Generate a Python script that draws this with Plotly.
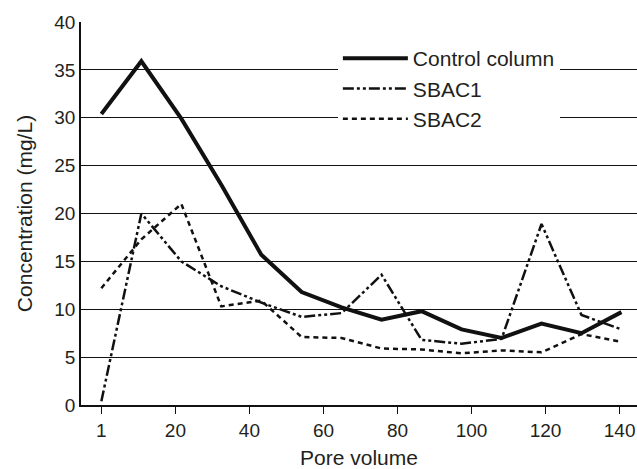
import plotly.graph_objects as go

pore_volume = [0, 10.8, 21.6, 32.4, 43.2, 54.1, 64.9, 75.7, 86.5, 97.3, 108.1, 118.9, 129.7, 140.5]
control = [30.4, 35.9, 29.9, 23.0, 15.7, 11.8, 10.2, 8.9, 9.8, 7.9, 7.0, 8.5, 7.5, 9.7]
sbac1 = [0.4, 20.0, 15.0, 12.4, 10.7, 9.2, 9.6, 13.6, 6.8, 6.4, 6.9, 18.9, 9.4, 7.9]
sbac2 = [12.2, 17.3, 21.0, 10.3, 10.9, 7.1, 7.0, 5.9, 5.8, 5.4, 5.7, 5.5, 7.4, 6.6]

x_tickvals = [0, 20, 40, 60, 80, 100, 120, 140]
x_ticktext = ["1", "20", "40", "60", "80", "100", "120", "140"]
y_tickvals = [0, 5, 10, 15, 20, 25, 30, 35, 40]

FONT = "Liberation Sans, Arial, sans-serif"
TXT = "#231f20"

fig = go.Figure()
fig.add_trace(go.Scatter(x=pore_volume, y=control, mode="lines", name="Control column",
                         line=dict(color="#111", width=4)))
fig.add_trace(go.Scatter(x=pore_volume, y=sbac1, mode="lines", name="SBAC1",
                         line=dict(color="#111", width=2.5, dash="11px,3px,3px,3px,3px,3px")))
fig.add_trace(go.Scatter(x=pore_volume, y=sbac2, mode="lines", name="SBAC2",
                         line=dict(color="#111", width=2.5, dash="5px,4px")))

fig.update_layout(
    width=637, height=469,
    margin=dict(l=81, r=0, t=22, b=64),
    paper_bgcolor="white", plot_bgcolor="white",
    font=dict(family=FONT, color=TXT, size=19),
    legend=dict(x=0.462, y=0.958, xanchor="left", yanchor="top",
                bgcolor="white", borderwidth=0, itemwidth=65,
                font=dict(size=21, family=FONT, color=TXT), tracegroupgap=0),
    xaxis=dict(range=[-5.5, 144.7], tickvals=x_tickvals, ticktext=x_ticktext,
               showgrid=False, zeroline=False, showline=True, linecolor="#111", linewidth=1.5,
               ticks="outside", ticklen=7, tickcolor="#111", tickwidth=1,
               tickfont=dict(size=19),
               title=dict(text="Pore volume", font=dict(size=21), standoff=12)),
    yaxis=dict(range=[0, 40], tickvals=y_tickvals, showgrid=True, gridcolor="#111", gridwidth=1,
               zeroline=False, showline=True, linecolor="#111", linewidth=1.5,
               ticks="", tickfont=dict(size=19),
               title=dict(text="Concentration (mg/L)", font=dict(size=21), standoff=16)),
)

fig.write_html("out.html", config={"displayModeBar": False},
               post_script="document.body.style.margin='0';document.body.style.overflow='hidden';")
